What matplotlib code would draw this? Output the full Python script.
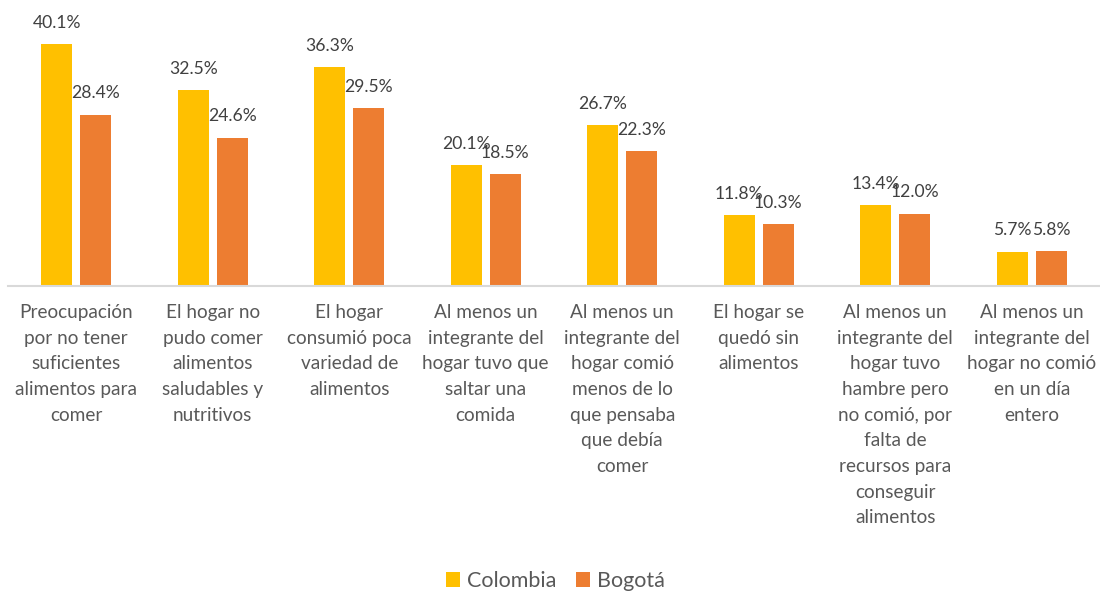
import matplotlib.pyplot as plt
import numpy as np

# Data
categories = [
    'Preocupación\npor no tener\nsuficientes\nalimentos para\ncomer',
    'El hogar no\npudo comer\nalimentos\nsaludables y\nnutritivos',
    'El hogar\nconsumió poca\nvariedad de\nalimentos',
    'Al menos un\nintegrante del\nhogar tuvo que\nsaltar una\ncomida',
    'Al menos un\nintegrante del\nhogar comió\nmenos de lo\nque pensaba\nque debía\ncomer',
    'El hogar se\nquedó sin\nalimentos',
    'Al menos un\nintegrante del\nhogar tuvo\nhambre pero\nno comió, por\nfalta de\nrecursos para\nconseguir\nalimentos',
    'Al menos un\nintegrante del\nhogar no comió\nen un día\nentero',
]
colombia = [40.1, 32.5, 36.3, 20.1, 26.7, 11.8, 13.4, 5.7]
bogota = [28.4, 24.6, 29.5, 18.5, 22.3, 10.3, 12.0, 5.8]

plt.rcParams['font.family'] = ['Lato', 'DejaVu Sans']
txt_color = '#595959'

fig = plt.figure(figsize=(11, 5.95), dpi=100)
ax = fig.add_axes([8/1100, 1 - 286/595, 1 - 8/1100, 286/595])

x = np.arange(len(categories))
w = 0.225
gap = 0.06
b1 = ax.bar(x - (w + gap)/2, colombia, w, color='#FFC000', label='Colombia')
b2 = ax.bar(x + (w + gap)/2, bogota, w, color='#ED7D31', label='Bogotá')

for bars, vals in [(b1, colombia), (b2, bogota)]:
    for r, v in zip(bars, vals):
        ax.annotate('%.1f%%' % v, (r.get_x() + r.get_width()/2, v),
                    xytext=(0, 9.5), textcoords='offset points',
                    ha='center', va='bottom', fontsize=12.6, color='#404040')

ax.set_xlim(-0.5, len(categories) - 0.5)
ax.set_ylim(0, 47.4)
ax.set_yticks([])
ax.set_xticks(x)
ax.set_xticklabels(categories, fontsize=13.7, color=txt_color, linespacing=1.62)
ax.tick_params(axis='x', length=0, pad=13)
for s in ['top', 'right', 'left']:
    ax.spines[s].set_visible(False)
ax.spines['bottom'].set_color('#D9D9D9')
ax.spines['bottom'].set_linewidth(1.5)

leg = fig.legend(loc='center', bbox_to_anchor=(0.505, 1 - 581/595), ncol=2,
                 frameon=False, fontsize=15.5, handlelength=0.65, handleheight=0.65,
                 handletextpad=0.35, columnspacing=0.9)
for t in leg.get_texts():
    t.set_color(txt_color)

fig.savefig('out.png', dpi=100)
